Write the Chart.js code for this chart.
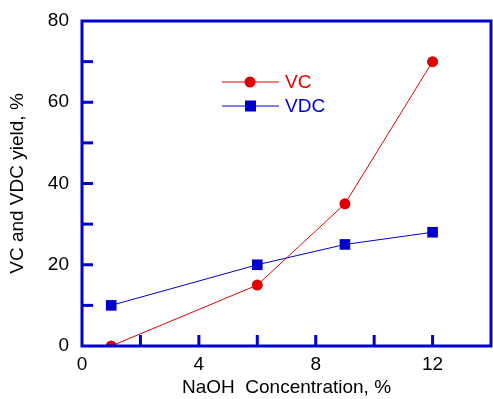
<!DOCTYPE html>
<html><head><meta charset="utf-8">
<script src="https://cdn.jsdelivr.net/npm/chart.js@4"></script>
<style>html,body{margin:0;padding:0;background:#fff}#wrap{width:493px;height:399px}</style>
</head><body><div id="wrap"><canvas id="c" width="493" height="399"></canvas></div>
<script>
const naoh = [1, 6, 9, 12];
const vcYield = [0, 15, 35, 70];
const vdcYield = [10, 20, 25, 28];
const seriesNames = ['VC', 'VDC'];
const xLabelEvery = 4, yLabelEvery = 20;

const RED = '#e00000', BLUE = '#0000cc', FRAME = '#0000d0';
const FONT = 'Arial, "Liberation Sans", sans-serif';

const framePlugin = {
  id: 'frame',
  afterDatasetsDraw(chart) {
    const {ctx, chartArea: a, scales: {x, y}} = chart;
    ctx.save();
    ctx.strokeStyle = FRAME; ctx.lineWidth = 3;
    x.ticks.forEach(t => { const px = x.getPixelForValue(t.value);
      if (t.value <= x.min || t.value >= x.max) return;
      ctx.beginPath(); ctx.moveTo(px, a.bottom); ctx.lineTo(px, a.bottom - 11); ctx.stroke(); });
    y.ticks.forEach(t => { const py = y.getPixelForValue(t.value);
      if (t.value <= y.min || t.value >= y.max) return;
      ctx.beginPath(); ctx.moveTo(a.left, py); ctx.lineTo(a.left + 11, py); ctx.stroke(); });
    ctx.strokeRect(a.left, a.top, a.right - a.left, a.bottom - a.top);
    const items = [{n: seriesNames[0], c: RED, s: 'circle'}, {n: seriesNames[1], c: BLUE, s: 'rect'}];
    const lx0 = 222, lx1 = 279, ys = [82, 106];
    items.forEach((it, i) => {
      const yy = ys[i];
      ctx.strokeStyle = it.c; ctx.lineWidth = 1;
      ctx.beginPath(); ctx.moveTo(lx0, yy); ctx.lineTo(lx1, yy); ctx.stroke();
      ctx.fillStyle = it.c;
      if (it.s === 'circle') { ctx.beginPath(); ctx.arc(250, yy, 5.5, 0, Math.PI*2); ctx.fill(); }
      else ctx.fillRect(245, yy - 5.5, 11, 11);
      ctx.font = '19px ' + FONT; ctx.textBaseline = 'middle'; ctx.textAlign = 'left';
      ctx.fillText(it.n, 285, yy + 1);
    });
    ctx.restore();
  }
};

new Chart(document.getElementById('c'), {
  type: 'line',
  data: {
    datasets: [
      {label: seriesNames[0], data: naoh.map((v, i) => ({x: v, y: vcYield[i]})), borderColor: RED, backgroundColor: RED,
       borderWidth: 1, pointStyle: 'circle', pointRadius: 5.5, pointBorderWidth: 0, tension: 0},
      {label: seriesNames[1], data: naoh.map((v, i) => ({x: v, y: vdcYield[i]})), borderColor: BLUE, backgroundColor: BLUE,
       borderWidth: 1, pointStyle: 'rect', pointRadius: 7.5, pointBorderWidth: 0, tension: 0}
    ]
  },
  options: {
    responsive: false, animation: false,
    layout: {autoPadding: false, padding: {top: 21, right: 2, left: 0, bottom: 0}},
    plugins: {legend: {display: false}, tooltip: {enabled: false}},
    scales: {
      x: {type: 'linear', min: 0, max: 14,
        ticks: {stepSize: 2, padding: 7, color: '#000', font: {family: FONT, size: 19},
          callback: v => (v % xLabelEvery === 0 && v < 14) ? String(v) : ''},
        grid: {drawOnChartArea: false, drawTicks: false}, border: {display: false},
        title: {display: true, text: 'NaOH  Concentration, %', color: '#000', font: {family: FONT, size: 19}, padding: {top: 4, bottom: 0}},
        afterFit: s => { s.height = 53; s.paddingLeft = 0; s.paddingRight = 0; }},
      y: {min: 0, max: 80,
        ticks: {stepSize: 10, padding: 13, color: '#000', font: {family: FONT, size: 19},
          callback: v => (v % yLabelEvery === 0) ? String(v) : ''},
        grid: {drawOnChartArea: false, drawTicks: false}, border: {display: false},
        title: {display: true, text: 'VC and VDC yield, %', color: '#000', font: {family: FONT, size: 19}, padding: {top: 6, bottom: 4}},
        afterFit: s => { s.width = 82; s.paddingTop = 0; s.paddingBottom = 0; }}
    }
  },
  plugins: [framePlugin]
});
</script></body></html>
